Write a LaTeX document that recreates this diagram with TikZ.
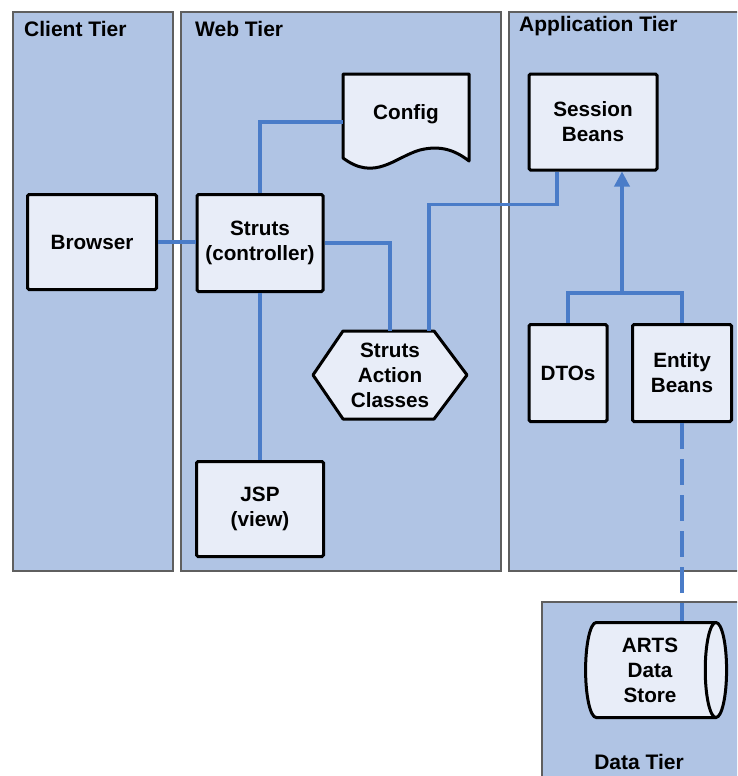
\documentclass[tikz,border=0pt]{standalone}
\usepackage{fontspec}
\setmainfont{Liberation Sans}
\usetikzlibrary{shapes.geometric,arrows.meta,calc}
\definecolor{mytier}{RGB}{176,196,228}
\definecolor{mybox}{RGB}{232,237,248}
\definecolor{myline}{RGB}{74,124,200}
\definecolor{myedge}{RGB}{95,95,95}

\begin{document}
\begin{tikzpicture}[x=1pt,y=-1pt,
  tier/.style={fill=mytier,draw=myedge,line width=1.2pt},
  tlabel/.style={font=\fontsize{21}{25}\selectfont\bfseries,inner sep=0pt},
  txt/.style={align=center,inner sep=0pt,font=\fontsize{20.7}{25}\selectfont\bfseries},
  box/.style={txt,draw,line width=3pt,fill=mybox,rounded corners=1.5pt},
  outline/.style={draw,line width=3pt,fill=mybox,line join=round},
  link/.style={draw=myline,line width=3.5pt}]

  \path[use as bounding box,clip] (0,0) rectangle (737,776);

  % tiers
  \draw[tier] (13,12) rectangle (173,571);
  \draw[tier] (181,12) rectangle (501,571);
  \draw[tier] (509,12) rectangle (750,571);
  \draw[tier] (542,602) rectangle (750,790);

  \node[tlabel,anchor=base west] (client) at (24,37) {Client Tier};
  \node[tlabel,anchor=base west] (web) at (195,37) {Web Tier};
  \node[tlabel,anchor=base west] (app) at (519,32) {Application Tier};
  \node[tlabel,anchor=base] (data) at (639,769) {Data Tier};

  % odd shapes
  \draw[outline] (343,74) -- (469,74) -- (469,161)
    .. controls (455,150) and (440,145) .. (420,150)
    .. controls (395,157) and (375,182) .. (343,158) -- cycle;
  \draw[outline] (313,375) -- (343,331) -- (434,331) -- (467,375)
    -- (434,419) -- (343,419) -- cycle;

  % boxes
  \node[box,minimum width=129pt,minimum height=95pt] (browser) at (92,242) {Browser};
  \node[box,minimum width=126pt,minimum height=97pt] (struts) at (260,243) {Struts\\(controller)};
  \node[box,minimum width=127pt,minimum height=95pt] (jsp) at (260,509) {JSP\\(view)};
  \node[txt,minimum width=126pt,minimum height=86pt] (config) at (406,114) {Config};
  \node[txt,minimum width=154pt,minimum height=88pt] (action) at (390,375) {Struts\\Action\\Classes};
  \node[box,minimum width=128pt,minimum height=96pt] (session) at (593,122) {Session\\Beans};
  \node[box,minimum width=78pt,minimum height=97pt] (dtos) at (568,373) {DTOs};
  \node[box,minimum width=99pt,minimum height=97pt] (entity) at (682,373) {Entity\\Beans};
  \node[cylinder,txt,draw,line width=3pt,fill=mybox,shape aspect=0.33,
    minimum width=95pt,minimum height=141pt] (arts) at (650,670) {ARTS\\Data\\Store};

  % connectors
  \draw[link] (browser.east) -- (browser.east -| struts.west);
  \draw[link] (struts.north) |- ($(config.west)+(0,8)$);
  \draw[link] (struts.south) -- (jsp.north);
  \draw[link] (struts.east) -| (action.north);
  \draw[link] ($(action.north)+(39,0)$) |- ($(session.south)+(-36,33)$) -- ($(session.south)+(-36,0)$);

  \coordinate (join) at (622,293);
  \draw[link,-{Triangle[width=15pt,length=15pt]}] (join) -- (join |- session.south);
  \draw[link] (dtos.north) |- (join) -| (entity.north);
  \draw[link,dash pattern=on 26pt off 10pt] (entity.south) -- (entity.south |- arts.north);

\end{tikzpicture}
\end{document}
